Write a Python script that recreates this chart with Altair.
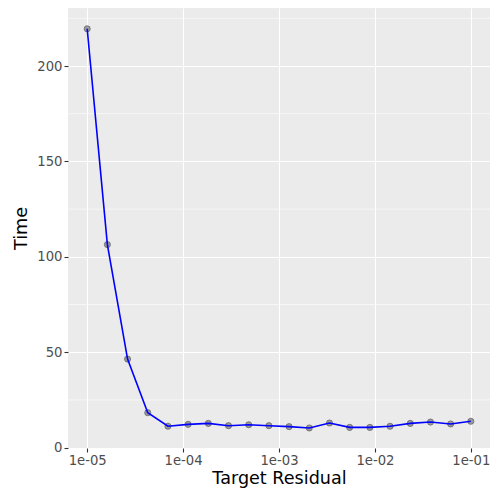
import altair as alt
import pandas as pd

residual = [1.000e-05, 1.624e-05, 2.637e-05, 4.281e-05, 6.952e-05, 1.129e-04, 1.833e-04,
            2.976e-04, 4.833e-04, 7.848e-04, 1.274e-03, 2.069e-03, 3.360e-03, 5.456e-03,
            8.859e-03, 1.438e-02, 2.336e-02, 3.793e-02, 6.158e-02, 1.000e-01]
time = [219.5, 106.4, 46.4, 18.3, 11.2, 12.2, 12.7, 11.5, 12.0, 11.5,
        11.0, 10.3, 12.9, 10.6, 10.6, 11.2, 12.7, 13.4, 12.4, 13.8]
x_ticks = [1e-05, 1e-04, 1e-03, 1e-02, 1e-01]
y_ticks = [0, 50, 100, 150, 200]
y_minor = [25, 75, 125, 175, 225]

df = pd.DataFrame({"residual": residual, "time": time})
minor_df = pd.DataFrame({"y": y_minor})

xscale = alt.Scale(type="log", domain=[10 ** -5.2, 10 ** -0.8], nice=False)
yscale = alt.Scale(domain=[-0.2, 230.4], nice=False, zero=False)

xaxis = alt.Axis(values=x_ticks, title="Target Residual",
                 labelExpr="replace(format(datum.value, '.0e'), 'e-', 'e-0')",
                 grid=True, gridColor="white", gridWidth=1.1, gridOpacity=1,
                 domain=False, tickColor="#333333", tickSize=4, tickWidth=1.1,
                 labelColor="#4D4D4D", labelFontSize=13.2, labelPadding=2,
                 titleFontSize=17.6, titleFontWeight="normal", titleColor="black",
                 titlePadding=3, labelFont="DejaVu Sans", titleFont="DejaVu Sans")
yaxis = alt.Axis(values=y_ticks, title="Time",
                 grid=True, gridColor="white", gridWidth=1.1, gridOpacity=1,
                 domain=False, tickColor="#333333", tickSize=4, tickWidth=1.1,
                 labelColor="#4D4D4D", labelFontSize=13.2, labelPadding=2,
                 titleFontSize=17.6, titleFontWeight="normal", titleColor="black",
                 titlePadding=6, labelFont="DejaVu Sans", titleFont="DejaVu Sans")

minor = alt.Chart(minor_df).mark_rule(color="white", strokeWidth=0.6).encode(
    y=alt.Y("y:Q", scale=yscale, axis=yaxis)
)

points = alt.Chart(df).mark_point(
    filled=True, size=38, fill="#7F7F7F", fillOpacity=0.75,
    stroke="#555555", strokeWidth=0.8, strokeOpacity=0.8
).encode(
    x=alt.X("residual:Q", scale=xscale, axis=xaxis),
    y=alt.Y("time:Q", scale=yscale, axis=yaxis),
)

line = alt.Chart(df).mark_line(color="blue", strokeWidth=1.6).encode(
    x=alt.X("residual:Q", scale=xscale, axis=xaxis),
    y=alt.Y("time:Q", scale=yscale, axis=yaxis),
)

chart = alt.layer(minor, points, line).properties(
    width=422, height=440,
    autosize=alt.AutoSizeParams(type="none"),
    padding={"left": 60, "top": 0, "right": 0, "bottom": 44},
).configure_view(fill="#EBEBEB", stroke=None)

chart.save("out.html", embed_options={"renderer": "svg", "actions": False})
